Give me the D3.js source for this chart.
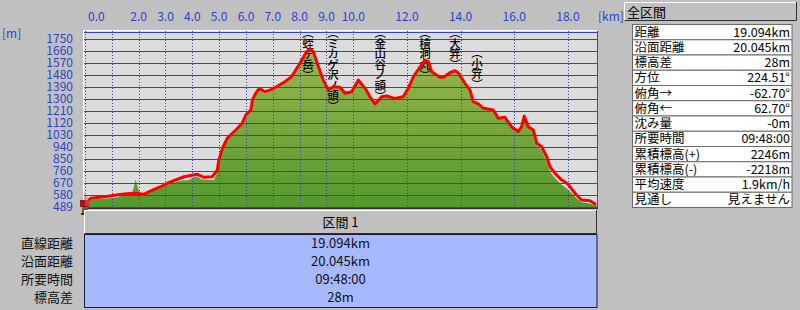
<!DOCTYPE html>
<html>
<head>
<meta charset="utf-8">
<script src="https://cdn.jsdelivr.net/npm/d3@7"></script>
<style>
  body { margin: 0; background: #c0c0c0; }
  svg { display: block; font-family: "Noto Sans CJK JP", sans-serif; }
</style>
</head>
<body>
<svg id="chart" width="800" height="310"></svg>
<script>
// route (red) profile
var routeKm = [0.0, 0.21, 0.71, 1.45, 1.83, 2.2, 2.39, 2.82, 3.07, 3.69, 4.19, 4.43, 4.74, 4.93, 4.99, 5.12, 5.3, 5.62, 5.86, 5.99, 6.18, 6.24, 6.34, 6.45, 6.55, 6.71, 6.9, 7.14, 7.45, 7.7, 8.01, 8.26, 8.39, 8.51, 8.7, 8.88, 9.07, 9.25, 9.5, 9.69, 9.94, 10.19, 10.44, 10.62, 10.81, 11.06, 11.24, 11.55, 11.86, 12.05, 12.24, 12.49, 12.67, 12.8, 12.92, 13.23, 13.36, 13.6, 13.79, 13.91, 14.16, 14.35, 14.47, 14.66, 14.85, 15.22, 15.4, 15.65, 15.9, 16.15, 16.27, 16.37, 16.52, 16.71, 16.84, 17.02, 17.21, 17.33, 17.52, 17.77, 18.01, 18.26, 18.51, 18.82, 19.05];
var routeElev = [517, 554, 566, 586, 592, 584, 604, 641, 667, 716, 734, 712, 716, 766, 841, 929, 1004, 1067, 1117, 1179, 1217, 1291, 1335, 1368, 1372, 1354, 1366, 1391, 1429, 1466, 1567, 1654, 1672, 1654, 1541, 1441, 1366, 1391, 1387, 1342, 1354, 1441, 1379, 1316, 1262, 1316, 1322, 1304, 1316, 1379, 1466, 1541, 1591, 1579, 1504, 1462, 1462, 1496, 1511, 1496, 1417, 1366, 1279, 1262, 1229, 1217, 1154, 1162, 1091, 1054, 1091, 1171, 1091, 1067, 967, 941, 866, 791, 741, 691, 659, 592, 541, 536, 508];

// terrain (green) profile
var terrainKm = [0.0, 0.09, 0.3, 0.8, 1.2, 1.45, 1.75, 1.82, 1.89, 1.96, 2.05, 2.3, 2.6, 2.9, 3.1, 3.35, 3.65, 3.85, 4.05, 4.2, 4.35, 4.8, 4.93, 5.0, 5.12, 5.3, 5.62, 5.86, 5.99, 6.18, 6.24, 6.34, 6.45, 6.55, 6.71, 6.9, 7.14, 7.45, 7.7, 8.01, 8.26, 8.39, 8.51, 8.7, 8.88, 9.07, 9.25, 9.5, 9.69, 9.94, 10.19, 10.44, 10.62, 10.81, 11.06, 11.24, 11.55, 11.86, 12.05, 12.24, 12.49, 12.67, 12.8, 12.92, 13.23, 13.36, 13.6, 13.79, 13.91, 14.16, 14.35, 14.47, 14.66, 14.85, 15.22, 15.4, 15.65, 15.9, 16.15, 16.27, 16.37, 16.52, 16.71, 16.84, 17.02, 17.21, 17.33, 17.52, 17.77, 18.01, 18.26, 18.51, 18.82, 19.05, 19.12];
var terrainElev = [505, 529, 545, 552, 560, 582, 588, 640, 697, 640, 592, 582, 615, 640, 662, 672, 690, 690, 712, 716, 695, 692, 750, 835, 920, 995, 1060, 1110, 1170, 1210, 1283, 1325, 1358, 1360, 1340, 1355, 1382, 1420, 1458, 1560, 1646, 1664, 1646, 1533, 1433, 1352, 1383, 1378, 1334, 1346, 1434, 1372, 1308, 1254, 1308, 1312, 1296, 1308, 1371, 1458, 1533, 1583, 1571, 1496, 1454, 1454, 1488, 1503, 1488, 1409, 1358, 1271, 1254, 1221, 1209, 1146, 1154, 1083, 1046, 1083, 1163, 1083, 1059, 950, 915, 830, 755, 705, 655, 620, 565, 525, 515, 500, 495];

var yTicks = [489, 580, 670, 760, 850, 940, 1030, 1120, 1210, 1300, 1390, 1480, 1570, 1660, 1750];
var xGrid = [0, 1, 2, 3, 4, 5, 6, 7, 8, 9, 10, 12, 14, 16, 18];
var xLabels = [0, 2, 3, 4, 5, 6, 7, 8, 9, 10, 12, 14, 16, 18];

var peakNames = ["蛭ヶ岳", "ミカゲ沢ノ頭", "金山谷ノ頭", "檜洞丸", "大笄", "小笄"];
var peakKm = [8.31, 9.24, 11.0, 12.67, 13.79, 14.61];

var totalLabels = ["距離", "沿面距離", "標高差", "方位", "俯角→", "俯角←", "沈み量", "所要時間", "累積標高(+)", "累積標高(-)", "平均速度", "見通し"];
var totalValues = ["19.094km", "20.045km", "28m", "224.51°", "-62.70°", "62.70°", "-0m", "09:48:00", "2246m", "-2218m", "1.9km/h", "見えません"];

var sectionLabels = ["直線距離", "沿面距離", "所要時間", "標高差"];
var sectionValues = ["19.094km", "20.045km", "09:48:00", "28m"];

(function() {
    var svg = d3.select("#chart");
    var pLeft = 84, pRight = 597, pTop = 31, pBottom = 208;
    var blue = "#3041cc";

    var x = d3.scaleLinear().domain([0, 19.12]).range([85, 598]);
    var y = d3.scaleLinear().domain([489, 1750]).range([207, 38.9]);

    var defs = svg.append("defs");
    defs.append("clipPath").attr("id", "plotclip")
        .append("rect").attr("x", pLeft).attr("y", pTop).attr("width", pRight - pLeft).attr("height", pBottom - pTop);
    var grad = defs.append("linearGradient").attr("id", "green")
        .attr("gradientUnits", "userSpaceOnUse")
        .attr("x1", 0).attr("y1", pTop).attr("x2", 0).attr("y2", pBottom);
    grad.append("stop").attr("offset", "0%").attr("stop-color", "#a2b955");
    grad.append("stop").attr("offset", "100%").attr("stop-color", "#54982d");

    // plot background
    svg.append("rect").attr("x", pLeft).attr("y", pTop).attr("width", pRight - pLeft).attr("height", pBottom - pTop)
        .attr("fill", "#dcdcdc");

    var plot = svg.append("g").attr("clip-path", "url(#plotclip)");

    var terrain = terrainKm.map(function(k, i) { return [k, terrainElev[i]]; });
    var route = routeKm.map(function(k, i) { return [k, routeElev[i]]; });

    plot.append("path")
        .datum(terrain)
        .attr("fill", "url(#green)")
        .attr("d", d3.area()
            .x(function(d) { return x(d[0]); })
            .y0(pBottom)
            .y1(function(d) { return y(d[1]); }));

    // grid
    plot.append("g").selectAll("line")
        .data(yTicks)
        .enter().append("line")
        .attr("x1", pLeft).attr("x2", pRight)
        .attr("y1", function(d) { return Math.round(y(d)) + 0.5; })
        .attr("y2", function(d) { return Math.round(y(d)) + 0.5; })
        .attr("stroke", blue).attr("stroke-width", 1);
    plot.append("line").attr("x1", pLeft).attr("x2", pRight).attr("y1", 32.5).attr("y2", 32.5)
        .attr("stroke", blue);

    plot.append("g").selectAll("line")
        .data(xGrid)
        .enter().append("line")
        .attr("x1", function(d) { return Math.round(x(d)) + 0.5; })
        .attr("x2", function(d) { return Math.round(x(d)) + 0.5; })
        .attr("y1", pTop).attr("y2", pBottom)
        .attr("stroke", blue).attr("stroke-dasharray", "1,2");

    // peak names, written vertically: one text per name, glyphs placed one by one
    var labelDrop = {"小笄": 20};
    var peaks = plot.append("g").attr("font-size", 11.5).attr("font-weight", 500).attr("fill", "#000");
    peakNames.forEach(function(name, i) {
        var cx = x(peakKm[i]);
        var cy = pTop + 1 + (labelDrop[name] || 0);
        var chars = ["︵"].concat(name.split(""), ["︶"]);
        var xs = [], ys = [];
        chars.forEach(function(c) {
            xs.push(cx);
            if (c === "︵") {
                ys.push(cy - 0.5);
                cy += 5.5;
            } else if (c === "︶") {
                ys.push(cy + 5.5);
                cy += 5.5;
            } else {
                ys.push(cy + 5.3);
                cy += 10.5;
            }
        });
        peaks.append("text")
            .attr("x", xs.join(" "))
            .attr("y", ys.join(" "))
            .attr("text-anchor", "middle")
            .attr("dominant-baseline", "central")
            .text(chars.join(""));
    });

    plot.append("path")
        .datum(route)
        .attr("fill", "none")
        .attr("stroke", "#ff0000")
        .attr("stroke-width", 3)
        .attr("stroke-linejoin", "round")
        .attr("d", d3.line()
            .x(function(d) { return x(d[0]); })
            .y(function(d) { return y(d[1]); }));

    // frame
    svg.append("line").attr("x1", pLeft - 0.5).attr("x2", pRight).attr("y1", pTop - 0.5).attr("y2", pTop - 0.5).attr("stroke", "#fff");
    svg.append("line").attr("x1", pLeft - 0.5).attr("x2", pLeft - 0.5).attr("y1", pTop - 0.5).attr("y2", pBottom + 1).attr("stroke", "#fff");
    svg.append("line").attr("x1", pRight + 0.5).attr("x2", pRight + 0.5).attr("y1", pTop).attr("y2", pBottom + 1).attr("stroke", "#40507a");
    svg.append("line").attr("x1", pLeft).attr("x2", pRight + 1).attr("y1", pBottom + 0.5).attr("y2", pBottom + 0.5).attr("stroke", "#333");

    // axes labels
    svg.append("g").selectAll("text")
        .data(yTicks)
        .enter().append("text")
        .attr("x", 73).attr("y", function(d) { return y(d) + 4.3; })
        .attr("text-anchor", "end")
        .attr("font-size", 12)
        .attr("fill", blue)
        .text(function(d) { return d; });

    svg.append("g").selectAll("text")
        .data(xLabels)
        .enter().append("text")
        .attr("x", function(d) { return d === 0 ? x(d) + 3 : x(d); })
        .attr("y", 21)
        .attr("text-anchor", function(d) { return d === 0 ? "start" : "middle"; })
        .attr("font-size", 12)
        .attr("fill", blue)
        .text(function(d) { return d3.format(".1f")(d); });

    svg.append("text").attr("x", 2).attr("y", 38).attr("font-size", 12).attr("fill", blue).text("[m]");
    svg.append("text").attr("x", 598).attr("y", 21).attr("font-size", 12).attr("fill", blue).text("[km]");

    // hiker marker
    var hiker = svg.append("g").attr("transform", "translate(" + (pLeft - 4) + "," + 197 + ")");
    hiker.append("rect").attr("x", 4).attr("y", 0).attr("width", 4).attr("height", 3).attr("fill", "#e8a070");
    hiker.append("rect").attr("x", 0).attr("y", 3).attr("width", 9).attr("height", 7).attr("fill", "#9a1a20");
    hiker.append("rect").attr("x", 5).attr("y", 3).attr("width", 4).attr("height", 6).attr("fill", "#e03030");
    hiker.append("rect").attr("x", 2).attr("y", 10).attr("width", 6).attr("height", 6).attr("fill", "#7a5a3a");
    hiker.append("rect").attr("x", 1).attr("y", 16).attr("width", 3).attr("height", 2).attr("fill", "#3a2a1a");
    hiker.append("rect").attr("x", 6).attr("y", 16).attr("width", 4).attr("height", 2).attr("fill", "#3a2a1a");

    function button(g, bx, by, bw, bh) {
        g.append("rect").attr("x", bx).attr("y", by).attr("width", bw).attr("height", bh).attr("fill", "#c0c0c0");
        g.append("path").attr("d", "M" + (bx + 0.5) + "," + (by + bh) + "V" + (by + 0.5) + "H" + (bx + bw))
            .attr("fill", "none").attr("stroke", "#fff");
        g.append("path").attr("d", "M" + (bx + 0.5) + "," + (by + bh - 0.5) + "H" + (bx + bw - 0.5) + "V" + by)
            .attr("fill", "none").attr("stroke", "#303030");
    }

    // section box
    var sec = svg.append("g");
    button(sec, pLeft, 210, pRight - pLeft, 24);
    sec.append("text").attr("x", (pLeft + pRight) / 2).attr("y", 227).attr("text-anchor", "middle")
        .attr("font-size", 13).attr("fill", "#000").text("区間 1");
    sec.append("rect").attr("x", pLeft + 0.5).attr("y", 234.5).attr("width", pRight - pLeft - 0.5).attr("height", 73)
        .attr("fill", "#a6b8fe").attr("stroke", "#1a1a30");

    sectionLabels.forEach(function(lab, i) {
        var by = 248 + i * 18;
        sec.append("text").attr("x", 73).attr("y", by).attr("text-anchor", "end")
            .attr("font-size", 13).attr("fill", "#111").text(lab);
        sec.append("text").attr("x", (pLeft + pRight) / 2).attr("y", by).attr("text-anchor", "middle")
            .attr("font-size", 13).attr("fill", "#111").text(sectionValues[i]);
    });

    // right panel
    var panel = svg.append("g");
    button(panel, 624, 2, 173, 19);
    panel.append("text").attr("x", 627).attr("y", 16.5).attr("font-size", 13).attr("fill", "#000").text("全区間");

    var rowH = 15.25, tx0 = 632.5, tx1 = 792;
    totalLabels.forEach(function(lab, i) {
        var ry = 24.5 + i * rowH;
        panel.append("rect").attr("x", tx0).attr("y", ry).attr("width", tx1 - tx0).attr("height", rowH)
            .attr("fill", "#fff").attr("stroke", "#6a6a6a");
        panel.append("text").attr("x", tx0 + 2).attr("y", ry + 12).attr("font-size", 12.5).attr("fill", "#000").text(lab);
        panel.append("text").attr("x", tx1 - 2).attr("y", ry + 12).attr("text-anchor", "end")
            .attr("font-size", 12.5).attr("fill", "#000").text(totalValues[i]);
    });
})();
</script>
</body>
</html>
